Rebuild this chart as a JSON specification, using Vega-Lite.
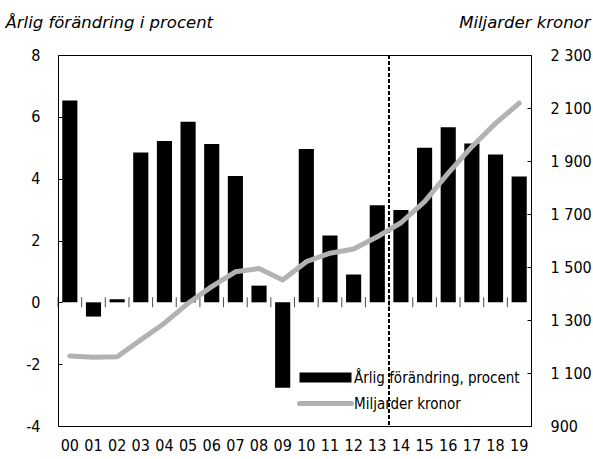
{
  "$schema": "https://vega.github.io/schema/vega-lite/v6.json",
  "width": 473,
  "height": 371,
  "autosize": "none",
  "padding": {"left": 58, "top": 55, "right": 62, "bottom": 33},
  "background": "white",
  "config": {
    "view": {"stroke": "black", "strokeWidth": 1},
    "font": "'Liberation Sans Narrow', 'DejaVu Sans Condensed', 'Arial Narrow', sans-serif",
    "axis": {"labelFont": "'Liberation Sans Narrow', 'DejaVu Sans Condensed', 'Arial Narrow', sans-serif", "labelFontSize": 16, "labelColor": "black", "grid": false, "tickColor": "black"}
  },
  "data": {
    "values": [
      {"year": "00", "change": 6.53, "value": 1164},
      {"year": "01", "change": -0.46, "value": 1159},
      {"year": "02", "change": 0.1, "value": 1161},
      {"year": "03", "change": 4.85, "value": 1225},
      {"year": "04", "change": 5.22, "value": 1288},
      {"year": "05", "change": 5.84, "value": 1363},
      {"year": "06", "change": 5.12, "value": 1426},
      {"year": "07", "change": 4.09, "value": 1482},
      {"year": "08", "change": 0.54, "value": 1494},
      {"year": "09", "change": -2.76, "value": 1451},
      {"year": "10", "change": 4.96, "value": 1520},
      {"year": "11", "change": 2.16, "value": 1552},
      {"year": "12", "change": 0.9, "value": 1568},
      {"year": "13", "change": 3.14, "value": 1614},
      {"year": "14", "change": 2.99, "value": 1667},
      {"year": "15", "change": 5.0, "value": 1747},
      {"year": "16", "change": 5.66, "value": 1854},
      {"year": "17", "change": 5.14, "value": 1954},
      {"year": "18", "change": 4.78, "value": 2042},
      {"year": "19", "change": 4.07, "value": 2118}
    ]
  },
  "encoding": {
    "x": {
      "field": "year",
      "type": "ordinal",
      "sort": null,
      "scale": {"paddingInner": 0, "paddingOuter": 0},
      "axis": {"title": null, "ticks": false, "domain": false, "labelPadding": 11, "labelAngle": 0}
    }
  },
  "layer": [
    {
      "layer": [
        {
          "mark": {"type": "bar", "width": {"band": 0.64}},
          "encoding": {
            "y": {
              "field": "change",
              "type": "quantitative",
              "scale": {"domain": [-4, 8], "nice": false, "zero": false},
              "axis": {
                "orient": "left",
                "values": [-4, -2, 0, 2, 4, 6, 8],
                "tickSize": -4,
                "labelPadding": 22,
                "domain": false,
                "labelExpr": "datum.value + ''",
                "title": "Årlig förändring i procent",
                "titleAngle": 0,
                "titleAlign": "left",
                "titleBaseline": "alphabetic",
                "titleX": -53,
                "titleY": -28,
                "titleFont": "DejaVu Sans",
                "titleFontStyle": "italic",
                "titleFontWeight": "normal",
                "titleFontSize": 16.5,
                "titleColor": "black"
              }
            },
            "color": {
              "datum": "Årlig förändring, procent",
              "scale": {"domain": ["Årlig förändring, procent", "Miljarder kronor"], "range": ["black", "#b2b2b2"]},
              "legend": {
                "title": null,
                "orient": "none",
                "legendX": 260,
                "legendY": 315,
                "padding": 0,
                "labelFont": "'Liberation Sans Narrow', 'DejaVu Sans Condensed', 'Arial Narrow', sans-serif",
                "labelFontSize": 15,
                "labelColor": "black",
                "labelLimit": 400,
                "labelOffset": 21,
                "rowPadding": 7,
                "symbolSize": 100,
                "encode": {
                  "symbols": {
                    "update": {
                      "shape": {"signal": "datum.value === 'Miljarder kronor' ? 'M-5.2,0H5.2' : 'M-5.2,-1H5.2V1H-5.2Z'"},
                      "fill": {"signal": "datum.value === 'Miljarder kronor' ? 'transparent' : 'black'"},
                      "stroke": {"signal": "datum.value === 'Miljarder kronor' ? '#b2b2b2' : 'black'"},
                      "strokeWidth": {"signal": "datum.value === 'Miljarder kronor' ? 5 : 0"},
                      "strokeCap": {"value": "round"},
                      "size": {"value": 100},
                      "opacity": {"value": 1}
                    }
                  }
                }
              }
            }
          }
        },
        {
          "mark": {"type": "rule", "color": "black", "strokeWidth": 1},
          "encoding": {"y": {"datum": 0, "type": "quantitative"}}
        },
        {
          "mark": {"type": "tick", "orient": "vertical", "color": "black", "thickness": 1, "size": 10},
          "encoding": {
            "x": {"field": "year", "type": "ordinal", "sort": null, "bandPosition": 0},
            "y": {"datum": 0, "type": "quantitative"}
          }
        },
        {
          "mark": {"type": "rule", "color": "black", "strokeWidth": 1.5, "strokeDash": [4, 2]},
          "encoding": {"x": {"datum": "14", "type": "ordinal", "bandPosition": 0}}
        }
      ]
    },
    {
      "mark": {"type": "line", "strokeWidth": 5, "strokeCap": "round", "strokeJoin": "round"},
      "encoding": {
        "y": {
          "field": "value",
          "type": "quantitative",
          "scale": {"domain": [900, 2300], "nice": false, "zero": false},
          "axis": {
            "orient": "right",
            "values": [900, 1100, 1300, 1500, 1700, 1900, 2100, 2300],
            "tickSize": -4,
            "labelPadding": 23,
            "domain": false,
            "labelExpr": "replace(format(datum.value, ','), ',', ' ')",
            "title": "Miljarder kronor",
            "titleAngle": 0,
            "titleAlign": "right",
            "titleBaseline": "alphabetic",
            "titleX": 59,
            "titleY": -28,
            "titleFont": "DejaVu Sans",
            "titleFontStyle": "italic",
            "titleFontWeight": "normal",
            "titleFontSize": 16.5,
            "titleColor": "black"
          }
        },
        "color": {"datum": "Miljarder kronor"}
      }
    }
  ],
  "resolve": {"scale": {"y": "independent"}}
}
